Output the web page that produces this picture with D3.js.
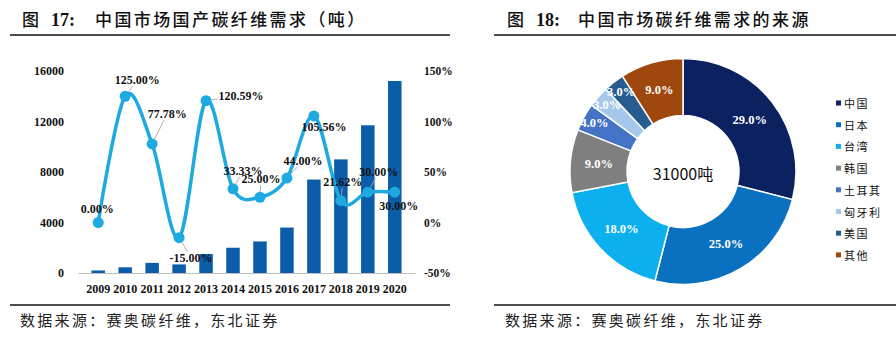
<!DOCTYPE html>
<html>
<head>
<meta charset="utf-8">
<script src="https://cdn.jsdelivr.net/npm/d3@7"></script>
<style>
  body { margin: 0; background: #fff; }
  text { font-family: "Liberation Serif", "Times New Roman", serif; }
  .cjk { font-family: "Noto Sans CJK SC", sans-serif; }
</style>
</head>
<body>
<div id="chart"></div>
<script>
// Figure 17 data: domestic carbon fibre demand (tons) and growth rate
const years = ["2009", "2010", "2011", "2012", "2013", "2014", "2015", "2016", "2017", "2018", "2019", "2020"];
const demand = [200, 450, 800, 680, 1500, 2000, 2500, 3600, 7400, 9000, 11700, 15210];
const growth = [0, 125, 77.78, -15, 120.59, 33.33, 25, 44, 105.56, 21.62, 30, 30];
const leftTicks = [0, 4000, 8000, 12000, 16000];
const rightTicks = [-50, 0, 50, 100, 150];

// Figure 18 data: sources of demand
const sources = ["中国", "日本", "台湾", "韩国", "土耳其", "匈牙利", "美国", "其他"];
const shares = [29, 25, 18, 9, 4, 3, 3, 9];
const pieColors = ["#0B2160", "#0A70C0", "#0DB0EE", "#7F7F7F", "#4472C4", "#A5C8EA", "#265C8F", "#9E480E"];
const totalLabel = "31000吨";

// label offsets relative to each marker (dx, dy of label centre)
const labelOffsets = [[-1, -14], [12, -16], [15, -30], [12, 20], [35, -5], [10, -18],
                      [1, -18], [16, -17], [10, 11], [2, -19], [11, -20], [4, 14]];

const W = 896, H = 337;
const svg = d3.select("#chart").append("svg")
    .attr("width", W)
    .attr("height", H);

// ---------- titles and frame lines ----------
function header(x0, x1, tx, num, title, gap) {
    const t = svg.append("text")
        .attr("x", tx).attr("y", 26)
        .attr("font-size", 17)
        .attr("fill", "#111");
    t.append("tspan").attr("class", "cjk").attr("font-weight", 500).text("图");
    t.append("tspan").attr("dx", 12).attr("font-weight", "bold").attr("font-size", 18).text(num + ":");
    t.append("tspan").attr("class", "cjk").attr("dx", gap).attr("font-weight", 500)
        .attr("letter-spacing", 2.4).text(title);
    svg.append("line").attr("x1", x0).attr("x2", x1).attr("y1", 35).attr("y2", 35)
        .attr("stroke", "#111").attr("stroke-width", 1.5);
    svg.append("line").attr("x1", x0).attr("x2", x1).attr("y1", 305).attr("y2", 305)
        .attr("stroke", "#111").attr("stroke-width", 1.5);
    svg.append("text").attr("class", "cjk")
        .attr("x", tx - 2).attr("y", 326)
        .attr("font-size", 15).attr("letter-spacing", 2.3)
        .attr("fill", "#222")
        .text("数据来源：赛奥碳纤维，东北证券");
}
header(10, 450, 22, "17", "中国市场国产碳纤维需求（吨）", 20);
header(494, 896, 507, "18", "中国市场碳纤维需求的来源", 18);

// ---------- Figure 17: bar + smooth line ----------
const x = d3.scaleBand().domain(years).range([78, 415]).padding(0.5);
const yL = d3.scaleLinear().domain([0, 16000]).range([273, 71]);
const yR = d3.scaleLinear().domain([-50, 150]).range([273, 71]);

svg.append("g")
    .selectAll("rect")
    .data(demand)
    .join("rect")
    .attr("x", (d, i) => x(years[i]))
    .attr("y", d => yL(d))
    .attr("width", x.bandwidth())
    .attr("height", d => yL(0) - yL(d))
    .attr("fill", "#0B5DAA");

// x axis
const xAxis = svg.append("g")
    .attr("transform", `translate(0,${yL(0)})`)
    .call(d3.axisBottom(x).tickSize(0).tickPadding(11));
xAxis.select(".domain").attr("stroke", "#BFBFBF").attr("stroke-width", 1);
xAxis.selectAll("text").attr("font-size", 12).attr("font-weight", "bold")
    .attr("fill", "#111").attr("font-family", "Liberation Serif, serif");

// left axis
const lAxis = svg.append("g")
    .attr("transform", "translate(66,0)")
    .call(d3.axisLeft(yL).tickValues(leftTicks).tickSize(0).tickPadding(2).tickFormat(d3.format("d")));
lAxis.select(".domain").remove();
lAxis.selectAll("text").attr("font-size", 12).attr("font-weight", "bold")
    .attr("fill", "#111").attr("font-family", "Liberation Serif, serif");

// right axis
const rAxis = svg.append("g")
    .attr("transform", "translate(422,0)")
    .call(d3.axisRight(yR).tickValues(rightTicks).tickSize(0).tickPadding(2).tickFormat(d => d + "%"));
rAxis.select(".domain").remove();
rAxis.selectAll("text").attr("font-size", 11.5).attr("font-weight", "bold")
    .attr("fill", "#111").attr("font-family", "Liberation Serif, serif");

// growth line
const cx = i => x(years[i]) + x.bandwidth() / 2;
const line = d3.line()
    .x((d, i) => cx(i))
    .y(d => yR(d))
    .curve(d3.curveCardinal.tension(0));

svg.append("path")
    .datum(growth)
    .attr("d", line)
    .attr("fill", "none")
    .attr("stroke", "#1EA9E1")
    .attr("stroke-width", 3.5);

const R = 5.5;
svg.append("g")
    .selectAll("circle")
    .data(growth)
    .join("circle")
    .attr("cx", (d, i) => cx(i))
    .attr("cy", d => yR(d))
    .attr("r", R)
    .attr("fill", "#1EA9E1");

// data labels with leader lines
const leaders = svg.append("g");
const labels = svg.append("g");
growth.forEach((g, i) => {
    const px = cx(i), py = yR(g);
    const lx = px + labelOffsets[i][0], ly = py + labelOffsets[i][1];
    const t = labels.append("text")
        .attr("x", lx).attr("y", ly)
        .attr("text-anchor", "middle")
        .attr("dominant-baseline", "central")
        .attr("font-size", 12).attr("font-weight", "bold")
        .attr("fill", "#111")
        .text(g.toFixed(2) + "%");
    const b = t.node().getBBox();
    const hw = b.width / 2 + 1, hh = b.height / 2 - 1;
    const dx = px - lx, dy = py - ly;
    const tt = Math.min(dx ? hw / Math.abs(dx) : Infinity, dy ? hh / Math.abs(dy) : Infinity);
    if (tt >= 1) return;
    const ex = lx + dx * tt, ey = ly + dy * tt;
    const len = Math.hypot(px - ex, py - ey);
    if (len < R + 3) return;
    const sx = px - (px - ex) / len * R, sy = py - (py - ey) / len * R;
    leaders.append("line")
        .attr("x1", sx).attr("y1", sy).attr("x2", ex).attr("y2", ey)
        .attr("stroke", "#A6A6A6").attr("stroke-width", 0.9);
});

// ---------- Figure 18: donut ----------
const pcx = 683, pcy = 171.5, outerR = 113, innerR = 56;
const pie = d3.pie().sort(null).value(d => d)(shares);
const arc = d3.arc().innerRadius(innerR).outerRadius(outerR);
const labelArc = d3.arc().innerRadius((innerR + outerR) / 2).outerRadius((innerR + outerR) / 2);
const smallArc = d3.arc().innerRadius(outerR - 12).outerRadius(outerR - 12);

const donut = svg.append("g").attr("transform", `translate(${pcx},${pcy})`);
donut.selectAll("path")
    .data(pie)
    .join("path")
    .attr("d", arc)
    .attr("fill", (d, i) => pieColors[i])
    .attr("stroke", "#fff")
    .attr("stroke-width", 1.5);

// thin slices get their label pushed toward the rim, as in the original
donut.selectAll("text.pct")
    .data(pie)
    .join("text")
    .attr("class", "pct")
    .attr("transform", d => `translate(${(d.data < 5 ? smallArc : labelArc).centroid(d)})`)
    .attr("text-anchor", "middle")
    .attr("dominant-baseline", "central")
    .attr("font-size", 12.5).attr("font-weight", "bold")
    .attr("fill", "#fff")
    .text(d => d.data.toFixed(1) + "%");

donut.append("text")
    .attr("class", "cjk")
    .attr("text-anchor", "middle")
    .attr("dominant-baseline", "central")
    .attr("y", 1)
    .attr("font-size", 16)
    .attr("fill", "#111")
    .text(totalLabel);

// legend
const legend = svg.append("g")
    .selectAll("g")
    .data(sources)
    .join("g")
    .attr("transform", (d, i) => `translate(836,${103 + i * 21.7})`);
legend.append("rect")
    .attr("x", 0).attr("y", -2.5)
    .attr("width", 5).attr("height", 5)
    .attr("fill", (d, i) => pieColors[i]);
legend.append("text")
    .attr("class", "cjk")
    .attr("x", 8)
    .attr("dominant-baseline", "central")
    .attr("font-size", 11)
    .attr("letter-spacing", 1.5)
    .attr("fill", "#111")
    .text(d => d);
</script>
</body>
</html>
